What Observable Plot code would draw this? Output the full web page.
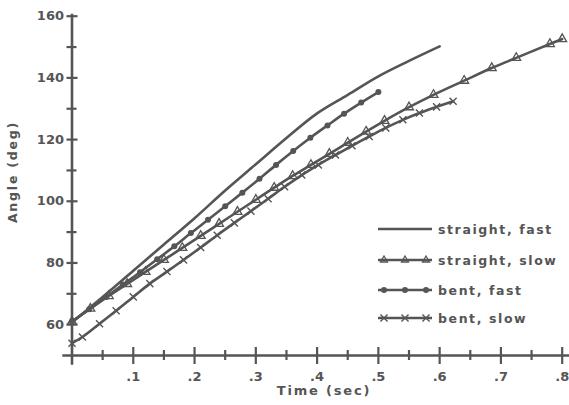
<!DOCTYPE html>
<html><head><meta charset="utf-8">
<script src="https://cdn.jsdelivr.net/npm/d3@7"></script>
<script src="https://cdn.jsdelivr.net/npm/@observablehq/plot@0.6"></script>
<style>body{margin:0;background:#fff} svg{display:block}</style>
</head><body><div id="chart"></div>
<script>
// ---- data ----
const seriesNames = ["straight, fast", "straight, slow", "bent, fast", "bent, slow"];

const straightFastT = [0, .05, .1, .15, .2, .25, .3, .35, .4, .45, .5, .55, .6];
const straightFastA = [60.8, 69, 77.5, 86, 94.5, 103.5, 112, 120.5, 128.5, 134.5, 140.5, 145.5, 150.2];

const straightSlowT = [0, .03, .06, .09, .12, .15, .18, .21, .24, .27, .30, .33, .36, .39, .42, .45, .48, .51, .55, .59, .64, .685, .725, .78, .80];
const straightSlowA = [61, 65.2, 69.3, 73.2, 77.1, 81, 84.9, 88.8, 92.7, 96.6, 100.5, 104.4, 108.2, 111.8, 115.4, 119, 122.6, 126.1, 130.5, 134.5, 139.1, 143.2, 146.5, 151, 152.6];

const bentFastT = [0, .028, .056, .083, .111, .139, .167, .194, .222, .25, .278, .306, .333, .361, .389, .417, .444, .472, .5];
const bentFastA = [61, 65, 69, 73, 77, 81.2, 85.4, 89.7, 94, 98.4, 102.8, 107.3, 111.8, 116.3, 120.6, 124.6, 128.4, 132, 135.4];

const bentSlowT = [0, .017, .045, .072, .1, .127, .155, .182, .21, .237, .265, .292, .32, .347, .375, .402, .43, .457, .485, .512, .54, .567, .595, .622];
const bentSlowA = [54, 56, 60.3, 64.5, 69, 73.3, 77.2, 81, 85, 89, 93, 96.8, 100.8, 104.7, 108.5, 111.8, 115, 118, 121, 123.8, 126.4, 128.6, 130.6, 132.4];

const xMajor = [.1, .2, .3, .4, .5, .6, .7, .8];
const xMinor = [.05, .15, .25, .35, .45, .55, .65, .75];
const yMajor = [60, 80, 100, 120, 140, 160];
const yMinor = [70, 90, 110, 130, 150];
const xLabels = [".1", ".2", ".3", ".4", ".5", ".6", ".7", ".8"];

// ---- build ----
const ink = "#555";
const font = "DejaVu Sans";
const pts = (T, A) => T.map((t, i) => ({t, a: A[i]}));
const sf = pts(straightFastT, straightFastA);
const ss = pts(straightSlowT, straightSlowA);
const bf = pts(bentFastT, bentFastA);
const bs = pts(bentSlowT, bentSlowA);
const lineOpts = {x: "t", y: "a", stroke: ink, strokeWidth: 2.6, curve: "catmull-rom"};
const txt = {fill: ink, fontFamily: font, fontWeight: "bold", fontSize: 13};

// tick half-lengths expressed in data units of the scales (px / px-per-unit)
const pxPerDeg = (355 - 15.7) / 110;
const pxPerSec = (561.7 - 71.5) / 0.8;
const dDeg = (len) => len / pxPerDeg;
const dSec = (len) => len / pxPerSec;

const tickStyle = {stroke: ink, strokeWidth: 2.2};

const chart = Plot.plot({
  width: 569, height: 405,
  marginLeft: 71.5, marginRight: 7.3, marginTop: 15.7, marginBottom: 50,
  x: {domain: [0, 0.8], axis: null},
  y: {domain: [50, 160], axis: null},
  style: {background: "#fff", overflow: "visible"},
  marks: [
    Plot.ruleY([50], {x1: () => -0.015, x2: () => 0.8125, stroke: ink, strokeWidth: 2.6}),
    Plot.ruleX([0], {y1: () => 46.8, y2: () => 160.6, stroke: ink, strokeWidth: 2.6}),
    Plot.ruleX(xMajor, {x: d => d, y1: () => 50 - dDeg(9), y2: () => 50 + dDeg(8), ...tickStyle}),
    Plot.ruleX(xMinor, {x: d => d, y1: () => 50 - dDeg(5), y2: () => 50 + dDeg(5), ...tickStyle}),
    Plot.ruleY(yMajor, {y: d => d, x1: () => -dSec(5), x2: () => dSec(6), ...tickStyle}),
    Plot.ruleY(yMinor, {y: d => d, x1: () => -dSec(5), x2: () => dSec(5), ...tickStyle}),
    Plot.text(xMajor, {x: d => d, y: () => 50, dy: 21, text: (d, i) => xLabels[i], ...txt}),
    Plot.text(yMajor, {x: () => 0, y: d => d, dx: -8, textAnchor: "end", text: d => String(d), ...txt}),
    Plot.line(sf, lineOpts),
    Plot.line(ss, lineOpts),
    Plot.line(bf, lineOpts),
    Plot.line(bs, lineOpts),
    Plot.dot(ss, {x: "t", y: "a", symbol: "triangle", r: 3.3, stroke: ink, fill: "none", strokeWidth: 1.3}),
    Plot.dot(bf, {x: "t", y: "a", r: 3, fill: ink}),
    Plot.dot(bs, {x: "t", y: "a", symbol: "times", r: 3.3, stroke: ink, strokeWidth: 1.4})
  ]
});
document.getElementById("chart").appendChild(chart);

// titles and legend
const svg = d3.select(chart);
svg.append("text").attr("x", 324).attr("y", 395).attr("text-anchor", "middle")
  .attr("fill", ink).attr("font-family", font).attr("font-weight", "bold")
  .attr("font-size", 13).attr("letter-spacing", "1.8px").text("Time (sec)");
svg.append("text").attr("transform", "translate(17,172) rotate(-90)").attr("text-anchor", "middle")
  .attr("fill", ink).attr("font-family", font).attr("font-weight", "bold")
  .attr("font-size", 12.5).attr("letter-spacing", "1.8px").text("Angle (deg)");

const legY = [229, 260, 290, 318];
const legend = svg.append("g");
seriesNames.forEach((name, i) => {
  const y = legY[i];
  legend.append("line").attr("x1", 378).attr("x2", 432).attr("y1", y).attr("y2", y)
    .attr("stroke", ink).attr("stroke-width", 2.6);
  [384, 405, 426].forEach(x => {
    if (i === 1) legend.append("path").attr("transform", `translate(${x},${y})`)
      .attr("d", d3.symbol(d3.symbolTriangle2, Math.PI * 3.3 * 3.3)())
      .attr("fill", "none").attr("stroke", ink).attr("stroke-width", 1.3);
    if (i === 2) legend.append("circle").attr("cx", x).attr("cy", y).attr("r", 3).attr("fill", ink);
    if (i === 3) legend.append("path").attr("transform", `translate(${x},${y})`)
      .attr("d", d3.symbol(d3.symbolTimes, Math.PI * 3.3 * 3.3)())
      .attr("fill", "none").attr("stroke", ink).attr("stroke-width", 1.4);
  });
  legend.append("text").attr("x", 438).attr("y", y + 4.5).attr("fill", ink)
    .attr("text-anchor", "start")
    .attr("font-family", font).attr("font-weight", "bold").attr("font-size", 12.5)
    .attr("letter-spacing", "1.6px").text(name);
});
</script></body></html>
